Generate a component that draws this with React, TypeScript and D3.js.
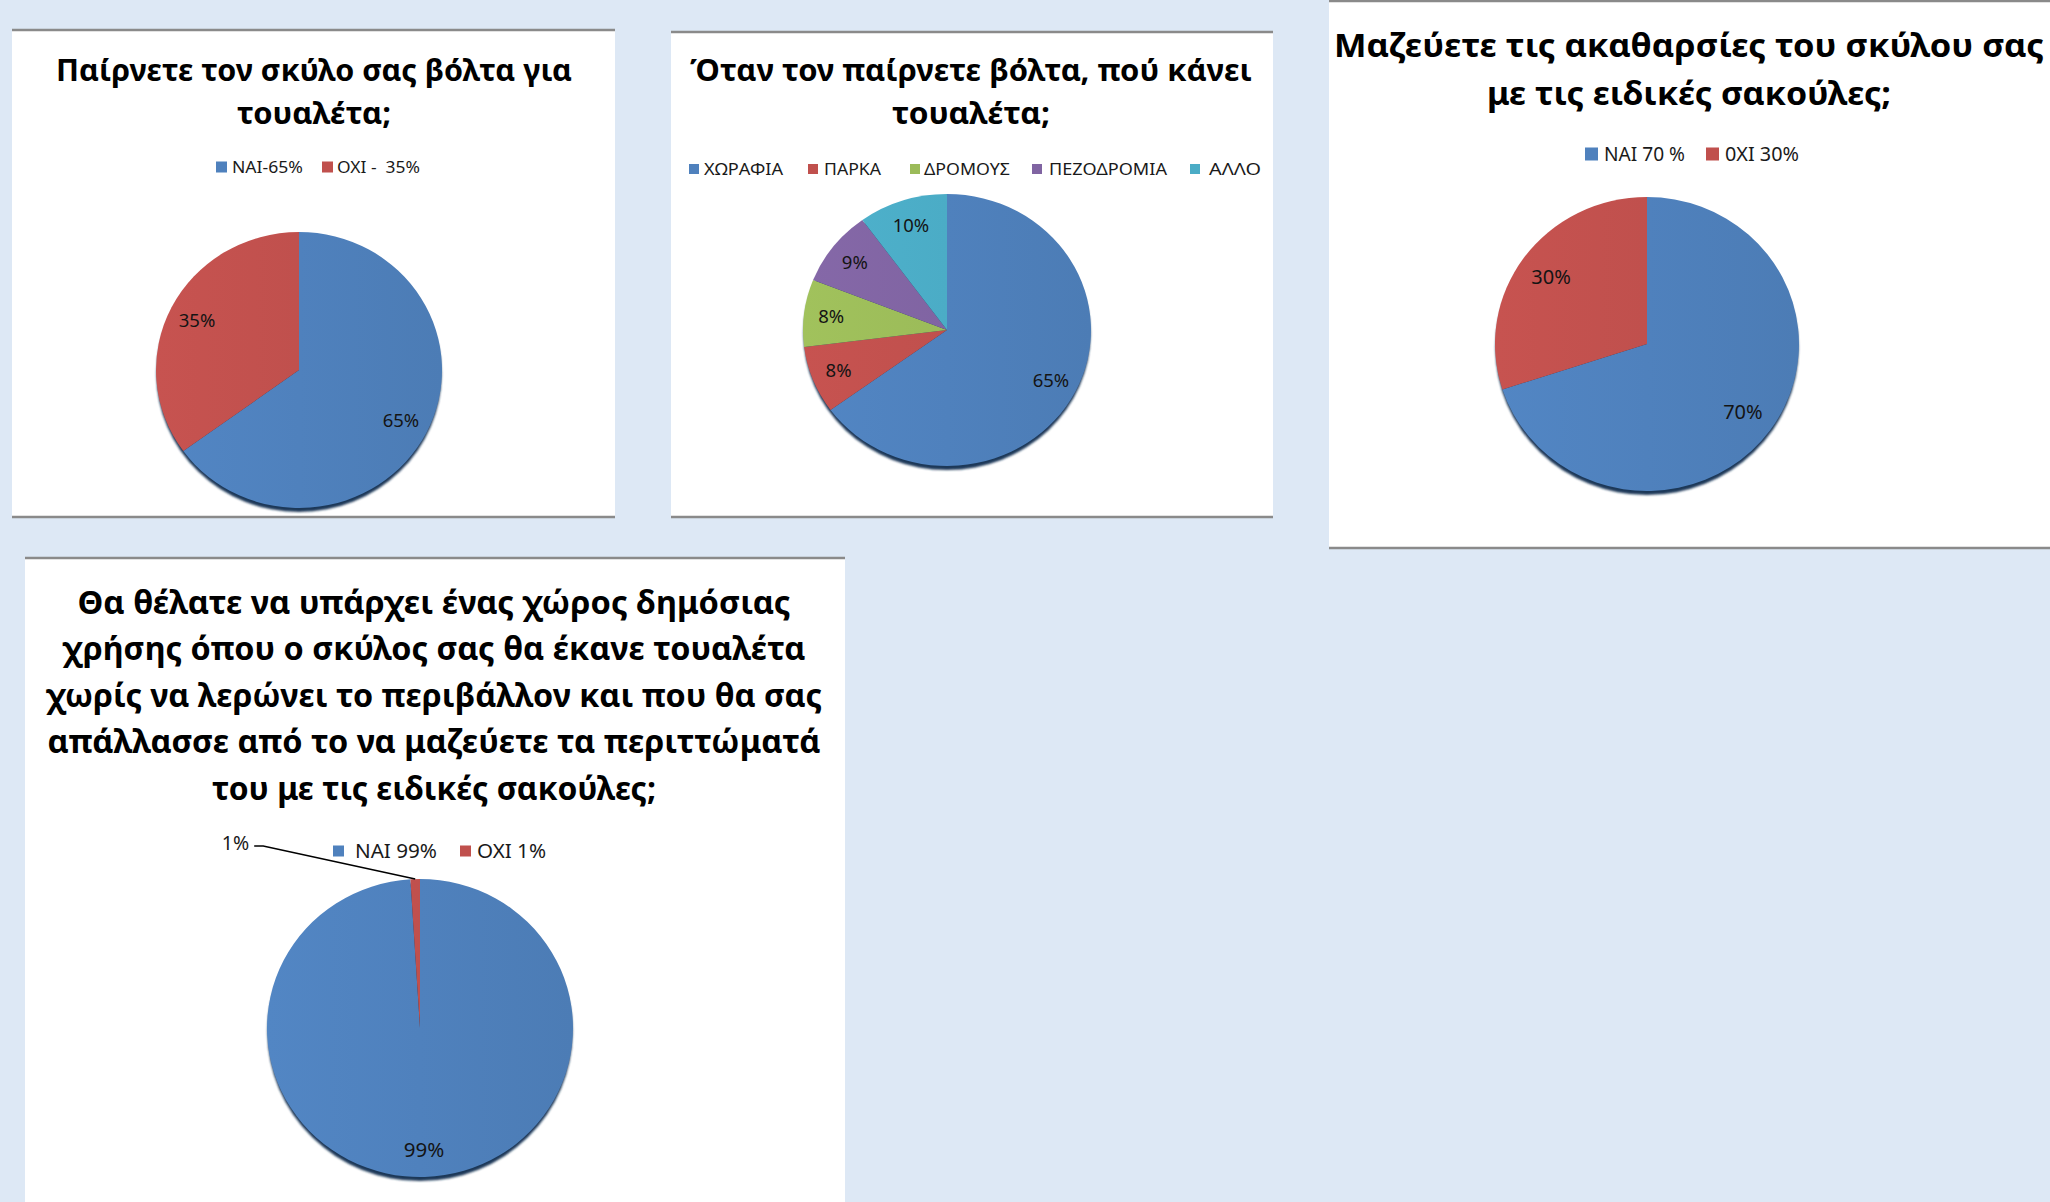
import React from 'react';
import * as d3 from 'd3';

// ---------- DATA ----------
const sliceColors = ['#4F81BD', '#C0504D', '#9BBB59', '#8064A2', '#4BACC6'];

const walkTitle = ['Παίρνετε τον σκύλο σας βόλτα για', 'τουαλέτα;'];
const walkCategories = ['ΝΑΙ-65%', 'ΟΧΙ -  35%'];
const walkValues = [65, 35];

const placeTitle = ['Όταν τον παίρνετε βόλτα, πού κάνει', 'τουαλέτα;'];
const placeCategories = ['ΧΩΡΑΦΙΑ', 'ΠΑΡΚΑ', 'ΔΡΟΜΟΥΣ', 'ΠΕΖΟΔΡΟΜΙΑ', 'ΑΛΛΟ'];
const placeValues = [65, 8, 8, 9, 10];

const bagTitle = ['Μαζεύετε τις ακαθαρσίες του σκύλου σας', 'με τις ειδικές σακούλες;'];
const bagCategories = ['ΝΑΙ 70 %', '0ΧΙ 30%'];
const bagValues = [70, 30];

const spaceTitle = [
  'Θα θέλατε να υπάρχει ένας χώρος δημόσιας',
  'χρήσης όπου ο σκύλος σας θα έκανε τουαλέτα',
  'χωρίς να λερώνει το περιβάλλον και που θα σας',
  'απάλλασσε από το να μαζεύετε τα περιττώματά',
  'του με τις ειδικές σακούλες;',
];
const spaceCategories = ['ΝΑΙ 99%', 'ΟΧΙ 1%'];
const spaceValues = [99, 1];

// ---------- LAYOUT / STYLE ----------
const FONT = "'Noto Sans', 'Open Sans', 'DejaVu Sans', sans-serif";
const BG = '#DDE8F5';

type PanelCfg = {
  id: string;
  box: { x: number; y: number; w: number; h: number; top: number; bottom?: number };
  title: { lines: string[]; fs: number; cx: number; baselines: number[]; widths: number[] };
  legend: { names: string[]; fs: number; cy: number; sq: number; sqX: number[]; txtX: number[]; txtW: number[] };
  values: number[];
  pie: { cx: number; cy: number; rx: number; ry: number; labelFs: number; labelR: number };
  outside?: { index: number; elbow: [number, number]; tail: number };
};

const panels: PanelCfg[] = [
  {
    id: 'p1',
    box: { x: 12, y: 30, w: 603, h: 487, top: 30, bottom: 517 },
    title: { lines: walkTitle, fs: 31, cx: 314, baselines: [81, 124], widths: [516, 154] },
    legend: { names: walkCategories, fs: 17, cy: 167, sq: 11, sqX: [216, 322], txtX: [232, 337], txtW: [71, 83] },
    values: walkValues,
    pie: { cx: 299, cy: 370, rx: 143, ry: 138, labelFs: 18.5, labelR: 0.8 },
  },
  {
    id: 'p2',
    box: { x: 671, y: 32, w: 602, h: 485, top: 32, bottom: 517 },
    title: { lines: placeTitle, fs: 31, cx: 971, baselines: [81, 124], widths: [562, 158] },
    legend: {
      names: placeCategories, fs: 16.5, cy: 169, sq: 10,
      sqX: [689, 808, 910, 1032, 1190], txtX: [704, 824, 924, 1049, 1209], txtW: [79, 57, 86, 118, 52],
    },
    values: placeValues,
    pie: { cx: 947, cy: 330, rx: 144, ry: 136, labelFs: 18.5, labelR: 0.81 },
  },
  {
    id: 'p3',
    box: { x: 1329, y: 0, w: 721, h: 548, top: 1, bottom: 548 },
    title: { lines: bagTitle, fs: 33, cx: 1689, baselines: [57, 105], widths: [710, 404] },
    legend: { names: bagCategories, fs: 19, cy: 154, sq: 13, sqX: [1585, 1706], txtX: [1604, 1725], txtW: [81, 74] },
    values: bagValues,
    pie: { cx: 1647, cy: 344, rx: 152, ry: 147, labelFs: 20, labelR: 0.78 },
  },
  {
    id: 'p4',
    box: { x: 25, y: 558, w: 820, h: 644, top: 558 },
    title: { lines: spaceTitle, fs: 32, cx: 434, baselines: [614, 660, 707, 753, 800], widths: [713, 743, 776, 773, 444] },
    legend: { names: spaceCategories, fs: 20, cy: 851, sq: 11, sqX: [333, 460], txtX: [355, 477], txtW: [82, 69] },
    values: spaceValues,
    pie: { cx: 420, cy: 1028, rx: 153, ry: 149, labelFs: 20.5, labelR: 0.82 },
    outside: { index: 1, elbow: [-152, -33], tail: 9 },
  },
];

function PiePanel({ cfg }: { cfg: PanelCfg }) {
  const { box, title, legend, values, pie, outside, id } = cfg;
  const arcsData = d3.pie<number>().sort(null).value((d) => d)(values);
  const arc = d3.arc<d3.PieArcDatum<number>>().innerRadius(0).outerRadius(pie.rx);
  const labelArc = d3
    .arc<d3.PieArcDatum<number>>()
    .innerRadius(pie.rx * pie.labelR)
    .outerRadius(pie.rx * pie.labelR);
  const edgeArc = d3.arc<d3.PieArcDatum<number>>().innerRadius(pie.rx).outerRadius(pie.rx);
  const sy = pie.ry / pie.rx;

  return (
    <g>
      <defs>
        {values.map((_, i) => {
          const c = d3.rgb(sliceColors[i]);
          return (
            <linearGradient key={i} id={`${id}-g${i}`} gradientUnits="userSpaceOnUse" x1={-pie.rx} y1={0} x2={pie.rx} y2={0}>
              <stop offset="0" stopColor={c.brighter(0.1).formatHex()} />
              <stop offset="0.5" stopColor={c.formatHex()} />
              <stop offset="1" stopColor={c.darker(0.12).formatHex()} />
            </linearGradient>
          );
        })}
        <filter id={`${id}-blur`} x="-10%" y="-10%" width="120%" height="120%">
          <feGaussianBlur stdDeviation="0.8" />
        </filter>
      </defs>
      <rect x={box.x} y={box.y} width={box.w} height={box.h} fill="#FFFFFF" />
      <line x1={box.x} x2={box.x + box.w} y1={box.top} y2={box.top} stroke="#8A8A8A" strokeWidth={2.5} />
      {box.bottom !== undefined && (
        <line x1={box.x} x2={box.x + box.w} y1={box.bottom} y2={box.bottom} stroke="#8A8A8A" strokeWidth={2.5} />
      )}
      {title.lines.map((t, i) => (
        <text
          key={i}
          x={title.cx}
          y={title.baselines[i]}
          textAnchor="middle"
          fontFamily={FONT}
          fontWeight="bold"
          fontSize={title.fs}
          fill="#000"
          textLength={title.widths[i]}
          lengthAdjust="spacingAndGlyphs"
        >
          {t}
        </text>
      ))}
      {legend.names.map((n, i) => (
        <g key={i}>
          <rect
            x={legend.sqX[i]}
            y={legend.cy - legend.sq / 2}
            width={legend.sq}
            height={legend.sq}
            fill={sliceColors[i]}
          />
          <text
            x={legend.txtX[i]}
            y={legend.cy + legend.fs * 0.36}
            fontFamily={FONT}
            fontSize={legend.fs}
            fill="#1A1A1A"
            textLength={legend.txtW[i]}
            lengthAdjust="spacingAndGlyphs"
            style={{ whiteSpace: 'pre' }}
          >
            {n}
          </text>
        </g>
      ))}
      {/* 3D rim shadow */}
      <ellipse
        cx={pie.cx}
        cy={pie.cy + 4}
        rx={pie.rx - 0.5}
        ry={pie.ry}
        fill="#1E3859"
        filter={`url(#${id}-blur)`}
      />
      <g transform={`translate(${pie.cx},${pie.cy}) scale(1,${sy})`}>
        {arcsData.map((a, i) => (
          <path key={i} d={arc(a) || ''} fill={`url(#${id}-g${i})`} />
        ))}
      </g>
      {arcsData.map((a, i) => {
        if (outside && outside.index === i) {
          const e = edgeArc.centroid(a);
          const ex = pie.cx + e[0];
          const ey = pie.cy + e[1] * sy;
          const bx = ex + outside.elbow[0];
          const by = ey + outside.elbow[1];
          return (
            <g key={i}>
              <polyline
                points={`${ex},${ey} ${bx},${by} ${bx - outside.tail},${by}`}
                fill="none"
                stroke="#000"
                strokeWidth={1.5}
              />
              <text
                x={bx - outside.tail - 5}
                y={by - 3 + pie.labelFs * 0.36}
                textAnchor="end"
                fontFamily={FONT}
                fontSize={pie.labelFs - 1}
                fill="#1A1A1A"
              >
                {`${a.data}%`}
              </text>
            </g>
          );
        }
        const c = labelArc.centroid(a);
        return (
          <text
            key={i}
            x={pie.cx + c[0]}
            y={pie.cy + c[1] * sy + pie.labelFs * 0.36}
            textAnchor="middle"
            fontFamily={FONT}
            fontSize={pie.labelFs}
            fill="#141414"
          >
            {`${a.data}%`}
          </text>
        );
      })}
    </g>
  );
}

export default function App() {
  return (
    <svg
      width={2050}
      height={1202}
      viewBox="0 0 2050 1202"
      style={{ position: 'absolute', left: 0, top: 0, display: 'block' }}
    >
      <rect x={0} y={0} width={2050} height={1202} fill={BG} />
      {panels.map((p) => (
        <PiePanel key={p.id} cfg={p} />
      ))}
    </svg>
  );
}
